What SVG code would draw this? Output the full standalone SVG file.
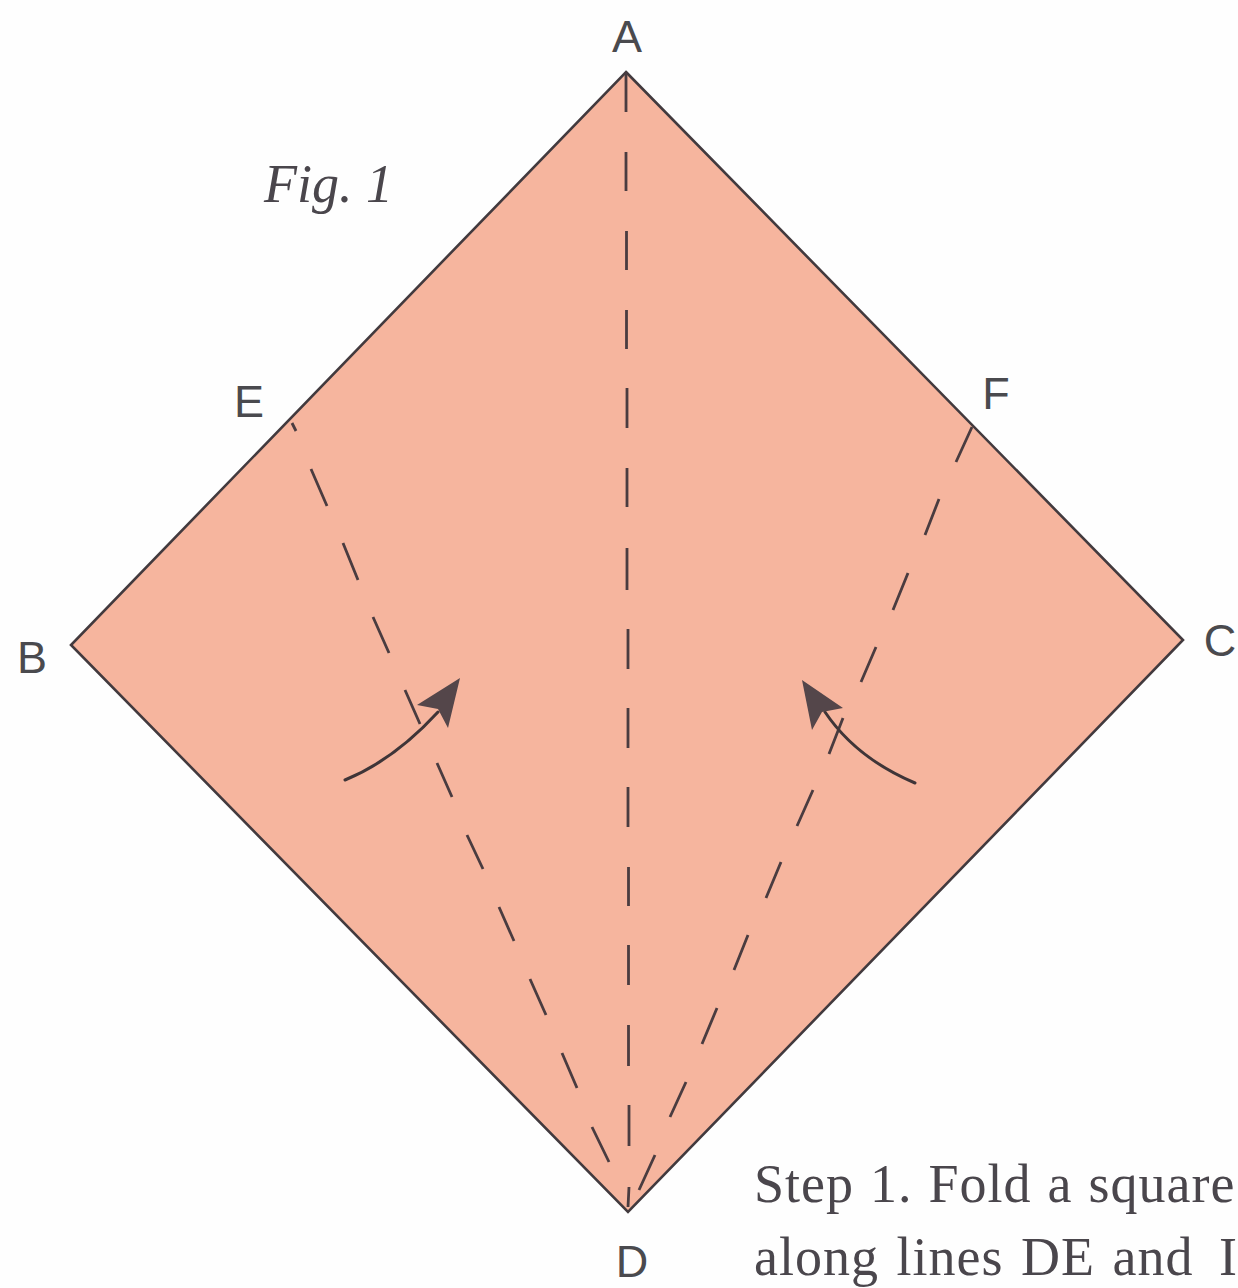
<svg xmlns="http://www.w3.org/2000/svg" width="1238" height="1288" viewBox="0 0 1238 1288">
<style>
.l{font-family:"Liberation Sans",Arial,sans-serif;font-size:45px;fill:#4a4a4e;text-anchor:middle}
.d{fill:none;stroke:#4a3c40;stroke-width:2.8}
.a{fill:none;stroke:#3f3538;stroke-width:3;stroke-linecap:round}
.h{fill:#54464a}
.t{font-family:"Liberation Serif","Times New Roman",serif;font-size:54px;letter-spacing:1px;word-spacing:1.5px;fill:#4a464c}
</style>
<rect width="1238" height="1288" fill="#fefefe"/>
<g id="square"><polygon points="626,72 1183,640 628,1212 71,645" fill="#f6b59e" stroke="#423a3e" stroke-width="2.6"/></g>
<g id="connectors">
<path class="d" d="M626 72V112M626 152V191M626.5 231V270M626.5 310V349M627 388V428M627 468V507M627 548V590M628 629V669M628 708V748M628 787V827M628.5 867V906M628.5 945V985M628.5 1025V1066M629 1105V1146M629 1187L628 1207"/>
<path class="d" d="M292 423L296 431M311 469L327 506M343 543L358 580M373 617L389 653M405 690L420 724M437 763L452 797M467 835L483 869M499 907L514 941M530 979L546 1015M562 1053L577 1088M592 1127L609 1162"/>
<path class="d" d="M972 427L956 462M939 499L925 535M908 573L893 610M876 647L861 682M843 718L829 754M813 790L797 826M781 862L766 898M748 935L734 970M717 1008L702 1044M686 1082L670 1117M655 1155L639 1190"/>
<path class="a" d="M345 780Q394 760 438 712"/>
<path class="h" d="M460 678L417 705L438 709L448 728Z"/>
<path class="a" d="M915 783Q856 758 825 712"/>
<path class="h" d="M802 680L843 708L822 712L812 730Z"/>
</g>
<g id="labels">
<text class="l" x="627" y="52">A</text>
<text class="l" x="32" y="673">B</text>
<text class="l" x="1220" y="656">C</text>
<text class="l" x="632" y="1277">D</text>
<text class="l" x="249" y="417">E</text>
<text class="l" x="996" y="409">F</text>
<text x="264" y="202" font-family="Liberation Serif,serif" font-style="italic" font-size="54" fill="#4a464c">Fig. 1</text>
<text class="t" x="754" y="1202">Step 1. Fold a square</text>
<text class="t" x="754" y="1275" style="word-spacing:3px">along lines DE and <tspan x="1219">I</tspan></text>
</g>
</svg>
